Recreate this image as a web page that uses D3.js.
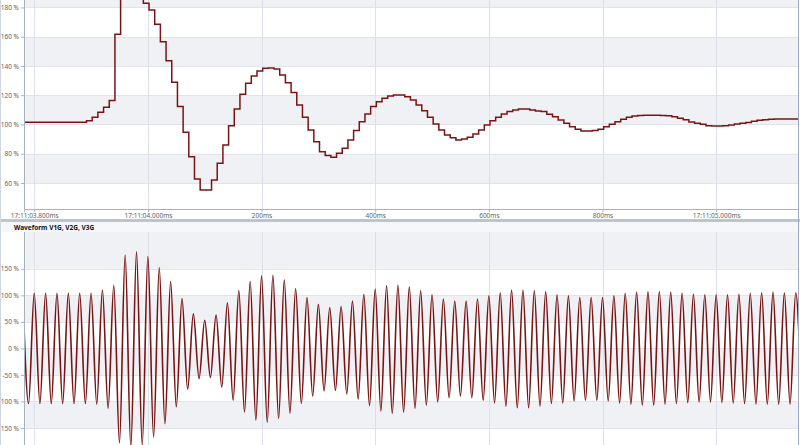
<!DOCTYPE html>
<meta charset="utf-8">
<script src="https://d3js.org/d3.v7.min.js"></script>
<style>
  body { margin: 0; background: #fff; }
  text { font-family: "Noto Sans", "Open Sans", sans-serif; }
</style>
<div id="chart"></div>
<script>

// ---- data ----
// x tick positions in seconds (17:11:0x) and their labels
var tickTimes = [3.8, 4.0, 4.2, 4.4, 4.6, 4.8, 5.0];
var tickLabels = ["17:11:03.800ms", "17:11:04.000ms", "200ms", "400ms", "600ms", "800ms", "17:11:05.000ms"];

// rms panel: level before the event, then one step every 10 ms
var rmsBefore = 101.5;
var rmsStart = 3.892;
var rmsStep = 0.01;
var rmsValues = [
  102.6, 104.9, 108.3, 111.8, 116.3, 161.7, 195, 205, 200, 190,
  182.9, 178.3, 168.5, 156.6, 143.6, 128.9, 112.2, 94.7, 78, 62.7,
  55.2, 55.2, 62.1, 73.5, 86, 99.2, 110.6, 120.6, 128.2, 133.2,
  136.6, 138.4, 138.6, 138, 133.8, 128.6, 121.8, 113.3, 104.9, 96.2,
  88.2, 81.4, 78.7, 77.6, 80.3, 83.7, 89.4, 95.8, 101.9, 107.2,
  112.2, 115.6, 117.9, 119.5, 120.2, 120.2, 119, 116.8, 113.3, 109.4,
  104.9, 100.3, 96.2, 92.8, 91, 89.4, 90.1, 91.2, 93.5, 96.2,
  99.7, 102.6, 104.9, 107.2, 108.8, 109.9, 110.6, 110.6, 109.9, 109.2,
  108.8, 107, 105.3, 103.1, 100.8, 98.5, 96.7, 95.6, 95.6, 95.8,
  96.7, 98.5, 100.1, 101.9, 103.5, 104.9, 105.8, 106.2, 106.3, 106.3,
  106.3, 106.2, 106, 105.3, 104.2, 103.3, 101.7, 100.8, 100.1, 99.2,
  99, 99, 99.1, 99.7, 100.3, 100.9, 101.4, 102.2, 102.8, 103.3,
  103.6, 103.8, 103.8, 103.8, 103.8, 103.8
];
var rmsTicks = [60, 80, 100, 120, 140, 160, 180];
var rmsBands = [[60, 80], [100, 120], [140, 160], [180, 200]];

// waveform panel: peak / trough values, one every half cycle (10 ms)
var waveStart = 3.78;
var waveStep = 0.01;
var wavePeaks = [
  103, -104, 104, -104, 104, -104, 104, -104, 104, -104,
  104, -104, 104, -105, 110, -113, 119, -178, 176, -186,
  182, -182, 173, -167, 152, -142, 126, -110, 94, -77,
  65, -57, 53, -55, 63, -73, 86, -98, 109, -120,
  126, -135, 137, -139, 138, -132, 129, -122, 113, -104,
  96, -90, 83, -80, 77, -79, 79, -86, 89, -96,
  102, -108, 112, -118, 118, -122, 119, -120, 116, -113,
  109, -107, 101, -101, 93, -93, 89, -90, 89, -93,
  93, -98, 99, -103, 105, -109, 110, -112, 110, -112,
  109, -109, 107, -104, 101, -103, 99, -99, 96, -98,
  96, -98, 96, -99, 99, -103, 104, -105, 106, -107,
  107, -107, 107, -105, 106, -104, 104, -102, 102, -101,
  101, -101, 101, -102, 101, -103, 102, -104, 104, -105,
  105, -105, 106, -105, 105, -105, 105, -105
];
var waveTicks = [-150, -100, -50, 0, 50, 100, 150];
var waveBands = [[-150, -100], [-50, 0], [50, 100], [150, 250]];

// ---- layout ----
var W = 800, H = 445;
var left = 24, right = 798;
var top1 = 0, bot1 = 209;
var top2 = 232, bot2 = 460;

var svg = d3.select("#chart").append("svg")
    .attr("width", W)
    .attr("height", H);

var x = d3.scaleLinear().domain([3.782, 5.144]).range([left, right]);
var y1 = d3.scaleLinear().domain([42.2, 185.1]).range([bot1, top1]);
var y2 = d3.scaleLinear().domain([-210.4, 219.4]).range([bot2, top2]);

var bandColor = "#f0f1f5";
var gridColor = "#e1e4ea";
var axisColor = "#a6b2c3";
var lineColor = "#7a1414";
var labelColor = "#5f6266";

// clip paths
var defs = svg.append("defs");
defs.append("clipPath").attr("id", "clip1").append("rect")
    .attr("x", left).attr("y", top1).attr("width", right - left).attr("height", bot1 - top1);
defs.append("clipPath").attr("id", "clip2").append("rect")
    .attr("x", left).attr("y", top2).attr("width", right - left).attr("height", bot2 - top2);

function drawPanel(yScale, ticks, bands, clipId, top, bot, fmt) {
  var g = svg.append("g").attr("clip-path", "url(#" + clipId + ")");
  // shaded bands
  g.selectAll("rect.band").data(bands).enter().append("rect")
      .attr("class", "band")
      .attr("x", left)
      .attr("width", right - left)
      .attr("y", function(d) { return yScale(d[1]); })
      .attr("height", function(d) { return yScale(d[0]) - yScale(d[1]); })
      .attr("fill", bandColor);
  // horizontal grid
  g.selectAll("line.hg").data(ticks).enter().append("line")
      .attr("x1", left).attr("x2", right)
      .attr("y1", function(d) { return Math.round(yScale(d)) + 0.5; })
      .attr("y2", function(d) { return Math.round(yScale(d)) + 0.5; })
      .attr("stroke", gridColor);
  // vertical grid
  g.selectAll("line.vg").data(tickTimes).enter().append("line")
      .attr("x1", function(d) { return Math.round(x(d)) + 0.5; })
      .attr("x2", function(d) { return Math.round(x(d)) + 0.5; })
      .attr("y1", top).attr("y2", bot)
      .attr("stroke", "#dce0e8");

  // y axis
  var ax = svg.append("g")
      .attr("transform", "translate(" + left + ",0)")
      .call(d3.axisLeft(yScale).tickValues(ticks).tickSize(3).tickPadding(2).tickFormat(fmt));
  ax.select(".domain").remove();
  ax.selectAll("line").attr("stroke", axisColor);
  ax.selectAll("text").attr("fill", labelColor).style("font-size", "6.5px");
  svg.append("line")
      .attr("x1", left + 0.5).attr("x2", left + 0.5)
      .attr("y1", top).attr("y2", bot)
      .attr("stroke", axisColor);
  return g;
}

// ---- top panel (rms steps) ----
var g1 = drawPanel(y1, rmsTicks, rmsBands, "clip1", top1, bot1, function(d) { return d + " %"; });

var rmsPts = [[3.782, rmsBefore]];
rmsValues.forEach(function(v, i) { rmsPts.push([rmsStart + i * rmsStep, v]); });
rmsPts.push([5.144, rmsValues[rmsValues.length - 1]]);

g1.append("path")
    .datum(rmsPts)
    .attr("fill", "none")
    .attr("stroke", lineColor)
    .attr("stroke-width", 1.5)
    .attr("d", d3.line()
      .curve(d3.curveStepAfter)
      .x(function(d) { return x(d[0]); })
      .y(function(d) { return y1(d[1]); }));

// x axis
var xAxis = svg.append("g")
    .attr("transform", "translate(0," + bot1 + ")")
    .call(d3.axisBottom(x).tickValues(tickTimes).tickSize(3).tickPadding(1)
      .tickFormat(function(d, i) { return tickLabels[i]; }));
xAxis.select(".domain").attr("stroke", axisColor);
xAxis.selectAll("line").attr("stroke", axisColor);
xAxis.selectAll("text").attr("fill", labelColor).style("font-size", "6.5px");

// separator between panels
svg.append("rect")
    .attr("x", 0).attr("y", 219).attr("width", W).attr("height", 3)
    .attr("fill", "#bcc4cf");
svg.append("rect")
    .attr("x", 0).attr("y", 222).attr("width", W).attr("height", 10)
    .attr("fill", "#f6f7f9");

// ---- bottom panel (waveform) ----
var g2 = drawPanel(y2, waveTicks, waveBands, "clip2", top2, bot2, function(d) { return d + " %"; });

svg.append("text")
    .attr("x", 14).attr("y", 230)
    .attr("fill", "#111")
    .style("font-size", "6.5px")
    .style("font-weight", "bold")
    .text("Waveform V1G, V2G, V3G");

g2.append("path")
    .datum(wavePeaks)
    .attr("fill", "none")
    .attr("stroke", lineColor)
    .attr("stroke-width", 1.6)
    .attr("d", d3.line()
      .curve(d3.curveMonotoneX)
      .x(function(d, i) { return x(waveStart + i * waveStep); })
      .y(function(d) { return y2(d); }));

// frame lines
svg.append("line")
    .attr("x1", 0.5).attr("x2", 0.5).attr("y1", 0).attr("y2", H)
    .attr("stroke", "#cfd6df");
svg.append("line")
    .attr("x1", right + 0.5).attr("x2", right + 0.5).attr("y1", 0).attr("y2", H)
    .attr("stroke", "#9eabbd");

</script>
